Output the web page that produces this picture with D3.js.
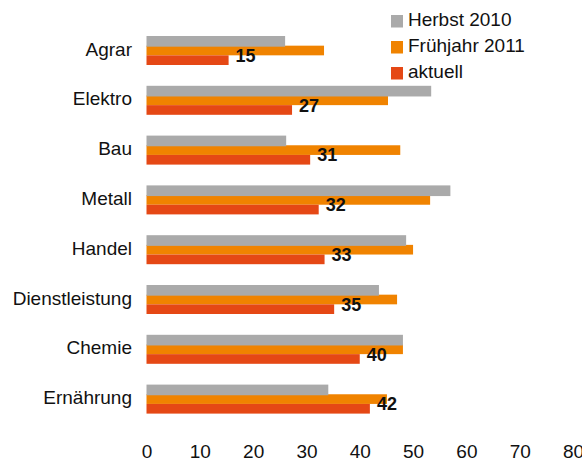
<!DOCTYPE html>
<html lang="de">
  <head>
    <meta charset="utf-8">
    <title>Branchen</title>
    <style>
      body {
        margin: 0;
        background: #fff;
        font-family: "Liberation Sans", Arial, Helvetica, sans-serif;
      }
      svg text { fill: #111; }
    </style>
  </head>
  <body>
    <div class="graph"></div>

    <script src="https://d3js.org/d3.v7.min.js"></script>
    <script>
      var categories = ['Agrar', 'Elektro', 'Bau', 'Metall', 'Handel', 'Dienstleistung', 'Chemie', 'Ernährung'];
      var seriesNames = ['Herbst 2010', 'Frühjahr 2011', 'aktuell'];
      var herbst2010 = [26.0, 53.4, 26.2, 57.0, 48.7, 43.6, 48.1, 34.1];
      var fruehjahr2011 = [33.3, 45.3, 47.6, 53.2, 50.0, 47.0, 48.1, 45.1];
      var aktuell = [15.4, 27.3, 30.7, 32.3, 33.4, 35.2, 40.0, 41.9];
      var ticks = [0, 10, 20, 30, 40, 50, 60, 70, 80];
      var colors = ['#aaaaaa', '#f08300', '#e54815'];

      var width = 582, height = 459;

      var svg = d3.select('.graph')
                  .append('svg')
                  .attr('width', width)
                  .attr('height', height);

      var x = d3.scaleLinear().domain([0, 80]).range([146.5, 573]);
      var y = d3.scaleBand().domain(categories).range([36, 36 + 8 * 49.8]);
      var ySub = d3.scaleBand().domain(seriesNames).range([0, 29]);
      var color = d3.scaleOrdinal().domain(seriesNames).range(colors);

      var values = [herbst2010, fruehjahr2011, aktuell];

      // draw order: orange under gray, red last
      var order = [1, 0, 2];
      order.forEach(function(s) {
        svg.append('g')
           .selectAll('rect')
           .data(categories)
           .enter()
           .append('rect')
           .attr('x', x(0))
           .attr('y', function(c) { return y(c) + ySub(seriesNames[s]); })
           .attr('width', function(c, i) { return x(values[s][i]) - x(0); })
           .attr('height', ySub.bandwidth() + (s === 0 ? 1 : 0))
           .attr('fill', colors[s]);
      });

      // category labels
      svg.append('g')
         .selectAll('text')
         .data(categories)
         .enter()
         .append('text')
         .attr('x', 132)
         .attr('y', function(c) { return y(c) + 19.5; })
         .attr('text-anchor', 'end')
         .style('font-size', '19px')
         .text(function(c) { return c; });

      // value labels for "aktuell"
      svg.append('g')
         .selectAll('text')
         .data(categories)
         .enter()
         .append('text')
         .attr('x', function(c, i) { return x(aktuell[i]) + 7; })
         .attr('y', function(c) { return y(c) + 25.7; })
         .style('font-size', '18px')
         .style('font-weight', 'bold')
         .text(function(c, i) { return d3.format('.0f')(aktuell[i]); });

      // x axis, labels only
      var axis = svg.append('g')
                    .attr('transform', 'translate(0,440)')
                    .call(d3.axisBottom(x).tickValues(ticks).tickSize(0).tickPadding(4.5));
      axis.select('.domain').remove();
      axis.selectAll('text')
          .style('font-size', '19px')
          .style('font-family', '"Liberation Sans", Arial, sans-serif')
          .attr('fill', '#111');

      // legend
      var legend = svg.append('g')
                      .selectAll('g')
                      .data(seriesNames)
                      .enter()
                      .append('g')
                      .attr('transform', function(d, i) { return 'translate(391,' + (15 + i * 26) + ')'; });
      legend.append('rect')
            .attr('width', 12)
            .attr('height', 12.5)
            .attr('fill', function(d) { return color(d); });
      legend.append('text')
            .attr('x', 17)
            .attr('y', 11)
            .style('font-size', '19px')
            .text(function(d) { return d; });
    </script>
  </body>
</html>
